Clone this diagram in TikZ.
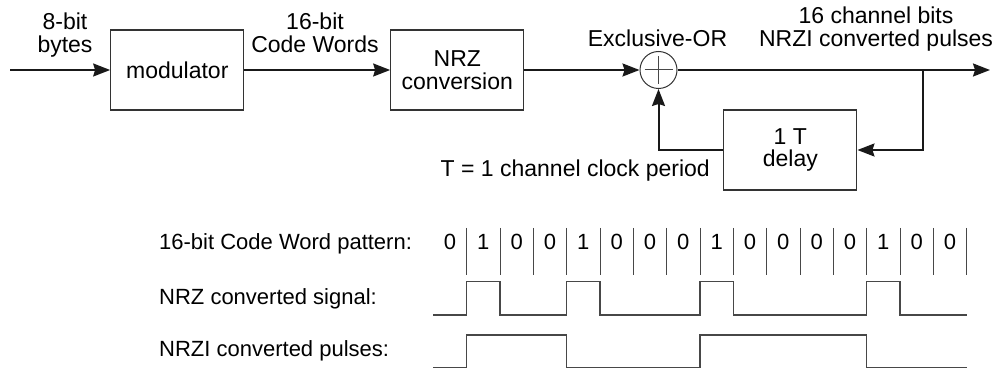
\documentclass[tikz,border=0pt]{standalone}
\usepackage{fontspec}
\setmainfont{Liberation Sans}
\usepackage{tikz}
\usetikzlibrary{arrows.meta}
\definecolor{linegray}{HTML}{474747}
\tikzset{
    block-box/.style = {draw=black!80, line width=1.3pt, rectangle, minimum width=133pt, minimum height=80pt, inner sep=0pt, align=center, font=\fontsize{23}{22.5}\selectfont},
    sum-circle/.style = {draw=black!80, line width=1pt, circle, minimum size=37pt, inner sep=0pt},
    signal-arrow/.style = {line width=2pt, black!90, -{Stealth[length=17pt, width=13pt, inset=2pt]}},
    label-text/.style = {inner sep=0pt, align=center, font=\fontsize{23}{22.5}\selectfont},
    wave-label/.style = {inner sep=0pt, anchor=base west, font=\fontsize{22}{24}\selectfont},
    bit-digit/.style = {inner sep=0pt, anchor=base, font=\fontsize{22}{24}\selectfont},
    bit-tick/.style = {draw=linegray, line width=1pt},
    wave-line/.style = {draw=linegray, line width=1.2pt},
}

\begin{document}
\begin{tikzpicture}[x=1pt, y=-1pt]
\useasboundingbox (0,0) rectangle (1003,371);

% blocks
\node[block-box] (mod) at (177.3,70) {modulator};
\node[block-box] (nrz) at (457.3,70) {NRZ\\conversion};
\node[sum-circle] (xor) at (658.5,70) {};
\node[block-box] (delay) at (790.3,150) {1 T\\delay};
\draw[linegray, line width=1pt] ([xshift=-14pt]xor.center) -- ([xshift=14pt]xor.center);
\draw[linegray, line width=1pt] ([yshift=-14pt]xor.center) -- ([yshift=14pt]xor.center);

\coordinate (in) at (10,70);
\coordinate (out) at (990,70);
\coordinate (tap) at (923,70);

% signal path
\draw[signal-arrow] (in) -- (mod.west);
\draw[signal-arrow] (mod.east) -- (nrz.west);
\draw[signal-arrow] (nrz.east) -- (xor.west);
\draw[signal-arrow] (xor.east) -- (out);
\draw[signal-arrow] (tap) |- (delay.east);
\draw[signal-arrow] (delay.west) -| (xor.south);

% labels
\node[label-text, anchor=north] (bytes-label) at (65,13) {8-bit\\bytes};
\node[label-text, anchor=north] (words-label) at (315,13) {16-bit\\Code Words};
\node[label-text, anchor=north] (xor-label) at (657.5,30) {Exclusive-OR};
\node[label-text, anchor=north] (out-label) at (876,7) {16 channel bits\\NRZI converted pulses};
\node[label-text, anchor=north east] (clock-label) at (710,160) {T = 1 channel clock period};

% timing diagram
\node[wave-label] (pattern-label) at (159,250) {16-bit Code Word pattern:};
\node[wave-label] (nrz-label) at (159,304) {NRZ converted signal:};
\node[wave-label] (nrzi-label) at (159,356) {NRZI converted pulses:};

\begin{scope}[x=33.333pt, xshift=433.333pt]
\foreach \b [count=\i from 0] in {0,1,0,0,1,0,0,0,1,0,0,0,0,1,0,0}
    \node[bit-digit] (bit\i) at (\i+0.5,250) {\b};
\foreach \i in {1,...,16}
    \draw[bit-tick] (\i,228) -- (\i,275);
\draw[wave-line] (0,315) -- (1,315) -- (1,281.7) -- (2,281.7) -- (2,315)
    -- (4,315) -- (4,281.7) -- (5,281.7) -- (5,315)
    -- (8,315) -- (8,281.7) -- (9,281.7) -- (9,315)
    -- (13,315) -- (13,281.7) -- (14,281.7) -- (14,315) -- (16,315);
\draw[wave-line] (0,367.7) -- (1,367.7) -- (1,335) -- (4,335) -- (4,367.7)
    -- (8,367.7) -- (8,335) -- (13,335) -- (13,367.7) -- (16,367.7);
\end{scope}
\end{tikzpicture}
\end{document}
